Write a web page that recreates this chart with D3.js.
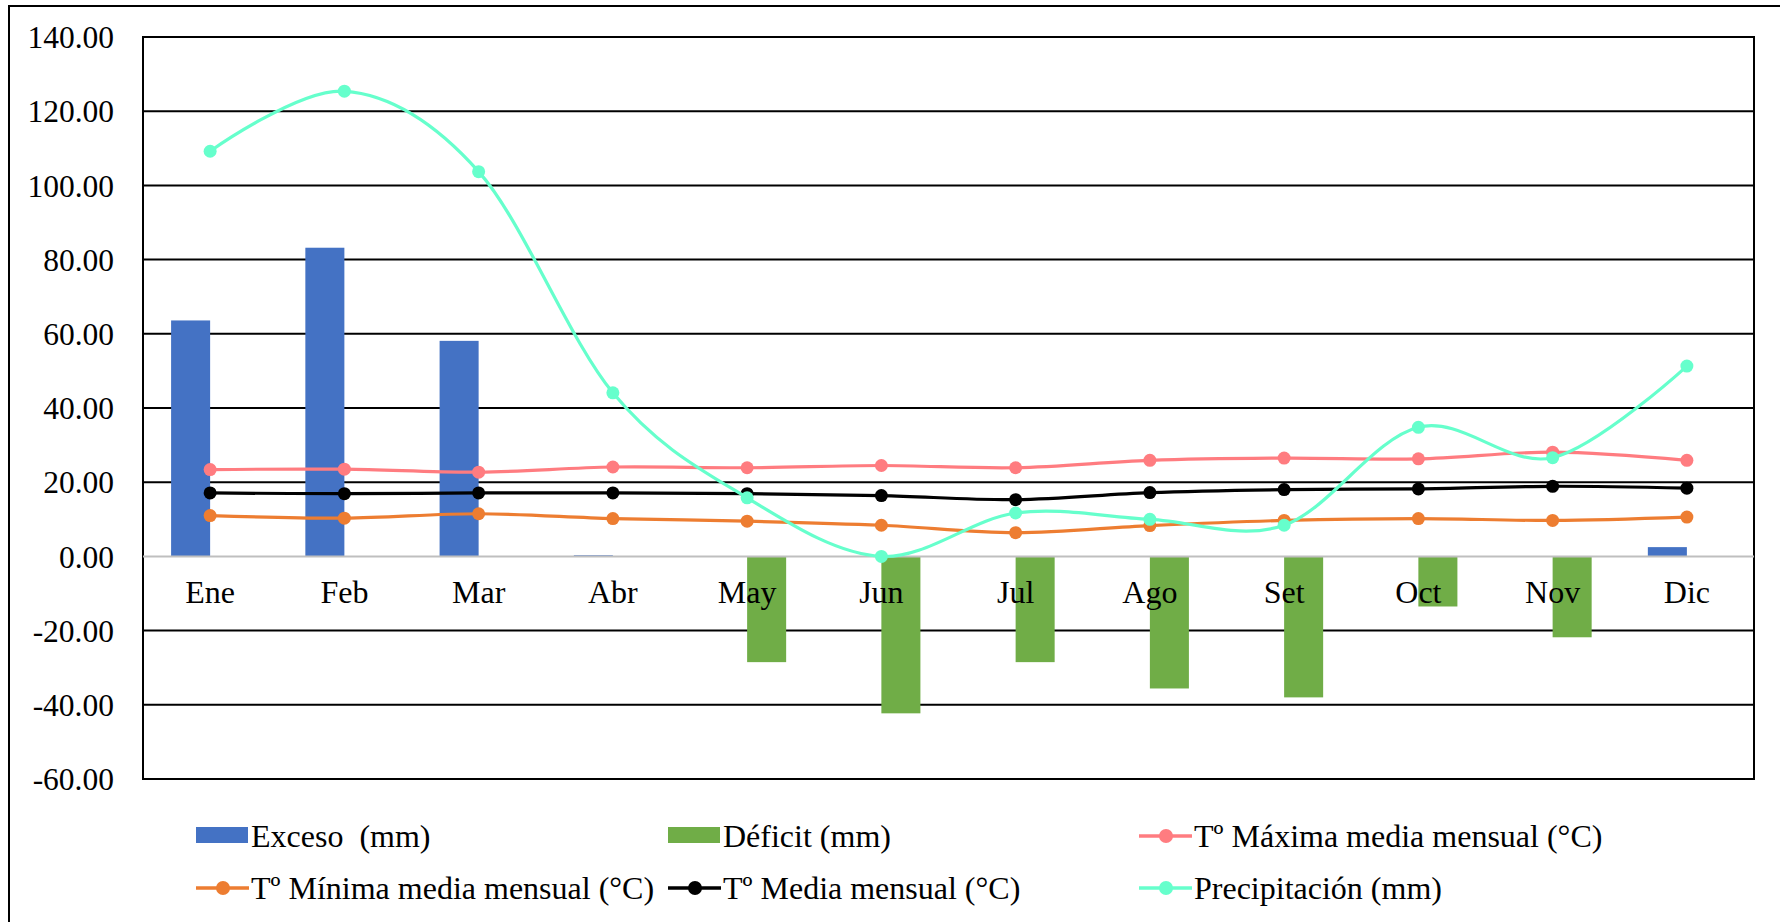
<!DOCTYPE html>
<html>
<head>
<meta charset="utf-8">
<script src="https://cdn.jsdelivr.net/npm/d3@7"></script>
<style>
  html, body { margin: 0; padding: 0; background: #fff; }
  svg { display: block; }
  svg text { font-family: "Liberation Serif", "Times New Roman", serif; }
</style>
</head>
<body>
<svg id="chart" width="1780" height="922"></svg>
<script>
// Balance hídrico mensual
const months = ["Ene", "Feb", "Mar", "Abr", "May", "Jun", "Jul", "Ago", "Set", "Oct", "Nov", "Dic"];
const exceso   = [63.6, 83.2, 58.1, 0.3, 0, 0, 0, 0, 0, 0, 0, 2.5];
const deficit  = [0, 0, 0, 0, -28.5, -42.3, -28.5, -35.6, -38.0, -13.5, -21.8, 0];
const tMax     = [23.4, 23.5, 22.7, 24.1, 23.9, 24.5, 23.9, 25.9, 26.5, 26.3, 28.1, 25.9];
const tMin     = [11.0, 10.3, 11.5, 10.2, 9.5, 8.4, 6.4, 8.3, 9.7, 10.2, 9.7, 10.6];
const tMedia   = [17.1, 16.9, 17.1, 17.1, 16.9, 16.4, 15.3, 17.2, 18.0, 18.2, 18.9, 18.4];
const precip   = [109.2, 125.4, 103.7, 44.1, 15.8, 0.0, 11.7, 10.0, 8.4, 34.8, 26.6, 51.3];
const yTicks   = [-60, -40, -20, 0, 20, 40, 60, 80, 100, 120, 140];

const colors = {
  exceso: "#4472C4",
  deficit: "#70AD47",
  tMax: "#FF7C80",
  tMin: "#ED7D31",
  tMedia: "#000000",
  precip: "#66FFCC"
};

const svg = d3.select("#chart");
const plot = { left: 143, right: 1754, top: 37, bottom: 779 };
const serif = '"Liberation Serif", "Times New Roman", serif';
const fontSize = 32;

// chart-area frame (only left and top edges fall inside the canvas)
svg.append("path")
  .attr("d", "M9,922 L9,6 L1790,6")
  .attr("fill", "none").attr("stroke", "#000").attr("stroke-width", 2);

const x = d3.scaleBand().domain(months).range([plot.left, plot.right]);
const xSub = d3.scaleBand().domain(["exceso", "deficit"]).range([0, x.bandwidth()])
  .paddingInner(0).paddingOuter(0.72);
const y = d3.scaleLinear().domain([-60, 140]).range([plot.bottom, plot.top]);
const cx = m => x(m) + x.bandwidth() / 2;

// horizontal gridlines
svg.append("g").selectAll("line")
  .data(yTicks.filter(t => t !== 0))
  .join("line")
  .attr("x1", plot.left).attr("x2", plot.right)
  .attr("y1", d => y(d)).attr("y2", d => y(d))
  .attr("stroke", "#000").attr("stroke-width", 2);

// plot border
svg.append("rect")
  .attr("x", plot.left).attr("y", plot.top)
  .attr("width", plot.right - plot.left).attr("height", plot.bottom - plot.top)
  .attr("fill", "none").attr("stroke", "#000").attr("stroke-width", 2);

// y-axis tick labels
const yAxis = d3.axisLeft(y).tickValues(yTicks).tickFormat(d => d.toFixed(2)).tickSize(0).tickPadding(29);
const gy = svg.append("g").attr("transform", `translate(${plot.left},0)`).call(yAxis);
gy.select(".domain").remove();
gy.attr("font-family", null).attr("font-size", null);
gy.selectAll("text")
  .style("font-family", serif)
  .style("font-size", "31.5px").attr("fill", "#000")
  .attr("dy", "0.34em");

// bars
const barData = months.map((m, i) => ({ m, exceso: exceso[i], deficit: deficit[i] }));
svg.append("g").selectAll("rect")
  .data(barData)
  .join("rect")
  .attr("x", d => x(d.m) + xSub("exceso"))
  .attr("width", xSub.bandwidth())
  .attr("y", d => y(Math.max(0, d.exceso)))
  .attr("height", d => Math.abs(y(d.exceso) - y(0)))
  .attr("fill", colors.exceso);
svg.append("g").selectAll("rect")
  .data(barData)
  .join("rect")
  .attr("x", d => x(d.m) + xSub("deficit"))
  .attr("width", xSub.bandwidth())
  .attr("y", d => y(Math.max(0, d.deficit)))
  .attr("height", d => Math.abs(y(d.deficit) - y(0)))
  .attr("fill", colors.deficit);

// zero axis line
svg.append("line")
  .attr("x1", plot.left).attr("x2", plot.right)
  .attr("y1", y(0)).attr("y2", y(0))
  .attr("stroke", "#BFBFBF").attr("stroke-width", 2);

// category labels
const xAxis = d3.axisBottom(x).tickSize(0).tickPadding(0);
const gx = svg.append("g").attr("transform", `translate(0,${y(0)})`).call(xAxis);
gx.select(".domain").remove();
gx.attr("font-family", null).attr("font-size", null);
gx.selectAll("text")
  .style("font-family", serif)
  .style("font-size", fontSize + "px").attr("fill", "#000")
  .attr("dy", null)
  .attr("y", 47);

// line series
const lineSeries = [
  { key: "tMax", values: tMax },
  { key: "tMin", values: tMin },
  { key: "tMedia", values: tMedia },
  { key: "precip", values: precip }
];
const line = d3.line()
  .x((d, i) => cx(months[i]))
  .y(d => y(d))
  .curve(d3.curveCardinal.tension(0));

lineSeries.forEach(s => {
  const g = svg.append("g");
  g.append("path")
    .attr("d", line(s.values))
    .attr("fill", "none")
    .attr("stroke", colors[s.key])
    .attr("stroke-width", 3.2)
    .attr("stroke-linejoin", "round");
  g.selectAll("circle")
    .data(s.values)
    .join("circle")
    .attr("cx", (d, i) => cx(months[i]))
    .attr("cy", d => y(d))
    .attr("r", 6.5)
    .attr("fill", colors[s.key]);
});

// legend
const legendItems = [
  { label: "Exceso  (mm)", key: "exceso", type: "bar", col: 0, row: 0 },
  { label: "Déficit (mm)", key: "deficit", type: "bar", col: 1, row: 0 },
  { label: "Tº Máxima media mensual (°C)", key: "tMax", type: "line", col: 2, row: 0 },
  { label: "Tº Mínima media mensual (°C)", key: "tMin", type: "line", col: 0, row: 1 },
  { label: "Tº Media mensual (°C)", key: "tMedia", type: "line", col: 1, row: 1 },
  { label: "Precipitación (mm)", key: "precip", type: "line", col: 2, row: 1 }
];
const legendCols = [196, 668, 1139];
const legendRows = [836, 888];
const lg = svg.append("g");
legendItems.forEach(it => {
  const lx = legendCols[it.col], ly = legendRows[it.row];
  if (it.type === "bar") {
    lg.append("rect").attr("x", lx).attr("y", ly - 9).attr("width", 52).attr("height", 16)
      .attr("fill", colors[it.key]);
  } else {
    lg.append("line").attr("x1", lx).attr("x2", lx + 53).attr("y1", ly).attr("y2", ly)
      .attr("stroke", colors[it.key]).attr("stroke-width", 3.5);
    lg.append("circle").attr("cx", lx + 27).attr("cy", ly).attr("r", 7)
      .attr("fill", colors[it.key]);
  }
  lg.append("text")
    .attr("x", lx + 55).attr("y", ly)
    .attr("dy", "0.34em")
    .style("font-family", serif)
    .style("font-size", fontSize + "px")
    .attr("fill", "#000")
    .style("white-space", "pre")
    .text(it.label);
});
</script>
</body>
</html>
